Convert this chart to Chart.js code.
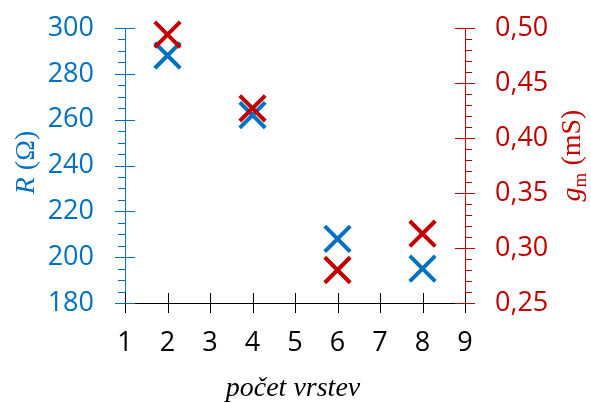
<!DOCTYPE html>
<html>
<head>
<meta charset="utf-8">
<script src="https://cdn.jsdelivr.net/npm/chart.js@4"></script>
<style>
  body { margin: 0; background: #fff; }
  #wrap { width: 591px; height: 403px; }
</style>
</head>
<body>
<div id="wrap"><canvas id="scatterChart"></canvas></div>
<script>
// values
const layers = [2, 4, 6, 8];
const resistance = [288, 262, 208, 195];      // R (Ω)
const transconductance = [0.494, 0.427, 0.280, 0.313]; // gm (mS)

const blue = '#0070C0';
const red = '#C00000';
const tickFont = { family: 'Open Sans', size: 27 };

// tick marks crossing the axes, minor ticks and the mixed-style titles
const axisExtras = {
    id: 'axisExtras',
    afterDraw(chart) {
        const c = chart.ctx;
        const x = chart.scales.x, yl = chart.scales.y, yr = chart.scales.y1;
        const a = chart.chartArea;
        c.save();
        c.lineWidth = 1;

        c.strokeStyle = '#000';
        for (let v = 1; v <= 9; v++) {
            const px = Math.round(x.getPixelForValue(v)) + 0.5;
            c.beginPath(); c.moveTo(px, a.bottom - 10); c.lineTo(px, a.bottom + 10); c.stroke();
        }

        c.strokeStyle = blue;
        for (let v = 180; v <= 300; v += 5) {
            const py = Math.round(yl.getPixelForValue(v)) + 0.5;
            c.beginPath();
            if (v % 20 === 0) { c.moveTo(a.left - 10, py); c.lineTo(a.left + 10, py); }
            else { c.moveTo(a.left - 7, py); c.lineTo(a.left, py); }
            c.stroke();
        }

        c.strokeStyle = red;
        for (let i = 25; i <= 50; i++) {
            const py = Math.round(yr.getPixelForValue(i / 100)) + 0.5;
            c.beginPath();
            if (i % 5 === 0) { c.moveTo(a.right - 10, py); c.lineTo(a.right + 10, py); }
            else { c.moveTo(a.right, py); c.lineTo(a.right + 7, py); }
            c.stroke();
        }

        // left title: R (Ω)
        c.textBaseline = 'alphabetic';
        c.fillStyle = blue;
        c.save();
        c.translate(34, (a.top + a.bottom) / 2 - 3);
        c.rotate(-Math.PI / 2);
        c.font = 'italic 28px "Liberation Serif"';
        const rW = c.measureText('R').width;
        c.font = '28px "Liberation Serif"';
        const restW = c.measureText(' (Ω)').width;
        let sx = -(rW + restW) / 2;
        c.font = 'italic 28px "Liberation Serif"';
        c.fillText('R', sx, 0);
        c.font = '28px "Liberation Serif"';
        c.fillText(' (Ω)', sx + rW, 0);
        c.restore();

        // right title: g_m (mS)
        c.fillStyle = red;
        c.save();
        c.translate(580, (a.top + a.bottom) / 2 - 10);
        c.rotate(-Math.PI / 2);
        c.font = 'italic 28px "Liberation Serif"';
        const gW = c.measureText('g').width;
        c.font = '19px "Liberation Serif"';
        const mW = c.measureText('m').width;
        c.font = '28px "Liberation Serif"';
        const uW = c.measureText(' (mS)').width;
        sx = -(gW + mW + uW) / 2;
        c.font = 'italic 28px "Liberation Serif"';
        c.fillText('g', sx, 0);
        c.font = '19px "Liberation Serif"';
        c.fillText('m', sx + gW, 6);
        c.font = '28px "Liberation Serif"';
        c.fillText(' (mS)', sx + gW + mW, 0);
        c.restore();

        // x title
        c.fillStyle = '#000';
        c.textAlign = 'center';
        c.font = 'italic 28px "Liberation Serif"';
        c.fillText('počet vrstev', (a.left + a.right) / 2 - 2, 396);
        c.restore();
    }
};

new Chart(document.getElementById('scatterChart'), {
    type: 'scatter',
    data: {
        datasets: [{
            label: 'R',
            data: layers.map((l, i) => ({ x: l, y: resistance[i] })),
            yAxisID: 'y',
            order: 1,
            clip: false,
            pointStyle: 'crossRot',
            radius: 18,
            borderWidth: 4,
            borderColor: blue,
            backgroundColor: blue
        }, {
            label: 'gm',
            data: layers.map((l, i) => ({ x: l, y: transconductance[i] })),
            yAxisID: 'y1',
            order: 0,
            clip: false,
            pointStyle: 'crossRot',
            radius: 18,
            borderWidth: 4,
            borderColor: red,
            backgroundColor: red
        }]
    },
    options: {
        responsive: true,
        maintainAspectRatio: false,
        animation: false,
        layout: { padding: { top: 28 } },
        plugins: { legend: { display: false }, tooltip: { enabled: false } },
        scales: {
            x: {
                type: 'linear', min: 1, max: 9,
                ticks: { stepSize: 1, color: '#000', font: tickFont, padding: 24 },
                grid: { drawOnChartArea: false, drawTicks: false },
                border: { color: '#000', width: 1 },
                afterFit: s => { s.height = 100; s.paddingLeft = 0; s.paddingRight = 0; }
            },
            y: {
                position: 'left', min: 180, max: 300,
                ticks: { stepSize: 20, color: blue, font: tickFont, padding: 31 },
                grid: { drawOnChartArea: false, drawTicks: false },
                border: { color: blue, width: 1 },
                afterFit: s => { s.width = 125; s.paddingTop = 0; s.paddingBottom = 0; }
            },
            y1: {
                position: 'right', min: 0.25, max: 0.5,
                ticks: {
                    stepSize: 0.05, color: red, font: tickFont, padding: 30,
                    callback: v => v.toFixed(2).replace('.', ',')
                },
                grid: { drawOnChartArea: false, drawTicks: false },
                border: { color: red, width: 1 },
                afterFit: s => { s.width = 126; s.paddingTop = 0; s.paddingBottom = 0; }
            }
        }
    },
    plugins: [axisExtras]
});
</script>
</body>
</html>
